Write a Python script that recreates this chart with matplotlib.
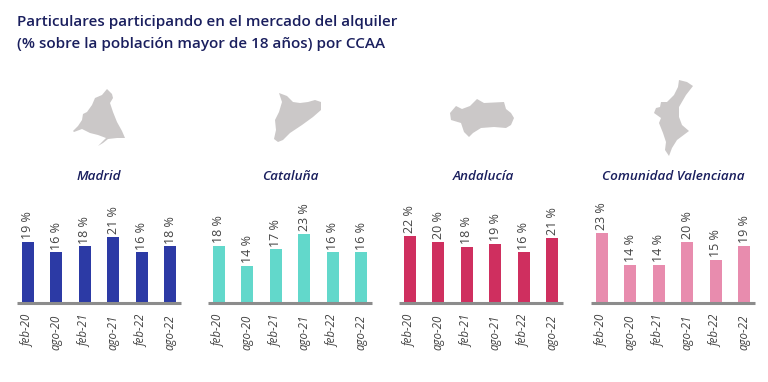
import matplotlib
matplotlib.use("Agg")
import matplotlib.pyplot as plt
from matplotlib.patches import Polygon

plt.rcParams['font.family'] = ['Open Sans', 'DejaVu Sans']

W = 768
H = 382

periods = ["feb-20", "ago-20", "feb-21", "ago-21", "feb-22", "ago-22"]
regions = ["Madrid", "Cataluña", "Andalucía", "Comunidad Valenciana"]

# bar heights as they are drawn in the picture (they do not always follow the printed label)
madrid = [19.4, 16.1, 18.0, 21.0, 16.1, 18.0]
cataluna = [18.1, 11.8, 17.0, 21.9, 16.1, 16.1]
andalucia = [21.2, 19.5, 17.7, 18.8, 16.1, 20.7]
valencia = [22.3, 12.2, 12.2, 19.5, 13.7, 18.1]

# printed labels
madrid_labels = [19, 16, 18, 21, 16, 18]
cataluna_labels = [18, 14, 17, 23, 16, 16]
andalucia_labels = [22, 20, 18, 19, 16, 21]
valencia_labels = [23, 14, 14, 20, 15, 19]

values = [madrid, cataluna, andalucia, valencia]
labels = [madrid_labels, cataluna_labels, andalucia_labels, valencia_labels]
colors = ["#2c3aa5", "#62d8cb", "#cf2f5f", "#e88cae"]
lefts = [17, 208, 399, 591]
title_x = [99, 290, 483, 673]

navy = "#1a1f5e"
grey_text = "#444444"

# map outlines, traced in pixels of the picture
madrid_map = [(107, 89), (112, 94), (113, 98), (110, 103), (113, 112), (117, 122), (122, 131), (125, 138),
              (117, 138), (108, 139), (103, 143), (98, 146), (102, 142), (106, 138), (98, 135), (90, 133),
              (82, 129), (74, 132), (73, 131), (78, 126), (82, 120), (83, 114), (87, 112), (92, 105),
              (95, 98), (102, 95)]
cataluna_map = [(279, 93), (287, 96), (293, 102), (300, 103), (308, 102), (315, 100), (321, 102), (321, 110),
                (313, 117), (302, 125), (290, 133), (283, 140), (278, 142), (274, 139), (276, 130),
                (275, 120), (279, 112), (282, 102)]
andalucia_map = [(456, 106), (462, 109), (470, 106), (477, 99), (484, 103), (504, 102), (506, 109), (511, 113),
                 (514, 118), (511, 125), (506, 128), (494, 127), (481, 128), (473, 133), (469, 137),
                 (464, 132), (461, 123), (451, 120), (450, 113)]
valencia_map = [(679, 80), (687, 82), (693, 86), (686, 95), (679, 107), (679, 117), (682, 125), (689, 131),
                (677, 140), (672, 148), (669, 156), (665, 150), (666, 142), (663, 133), (659, 123),
                (661, 118), (654, 113), (656, 108), (660, 107), (661, 102), (667, 102), (674, 95), (678, 87)]
maps = [madrid_map, cataluna_map, andalucia_map, valencia_map]

fig = plt.figure(figsize=(W / 100, H / 100), dpi=100, facecolor="white")

fig.text(17 / W, 1 - 22 / H, "Particulares participando en el mercado del alquiler",
         color=navy, fontsize=11, va="center", ha="left", fontweight="semibold")
fig.text(17 / W, 1 - 44 / H, "(% sobre la población mayor de 18 años) por CCAA",
         color=navy, fontsize=11, va="center", ha="left", fontweight="semibold")

base_y = 303
panel_w = 164
panel_h = 100
px_per_unit = 3.15

for i in range(4):
    ax = fig.add_axes([lefts[i] / W, 1 - base_y / H, panel_w / W, panel_h / H])
    x = list(range(6))
    ax.bar(x, values[i], width=0.42, color=colors[i])
    ax.set_xlim(-0.37, 5.37)
    ax.set_ylim(0, panel_h / px_per_unit)
    ax.set_xticks(x)
    ax.set_xticklabels(periods, rotation=90, style="italic", fontsize=8.3, color=grey_text)
    ax.tick_params(axis="x", length=0, pad=8.5)
    ax.set_yticks([])
    for s in ["top", "left", "right"]:
        ax.spines[s].set_visible(False)
    ax.spines["bottom"].set_color("#8c8c8c")
    ax.spines["bottom"].set_linewidth(2.2)
    ax.spines["bottom"].set_capstyle("butt")
    ax.patch.set_alpha(0)
    for j in x:
        ax.annotate(str(labels[i][j]) + " %", (j, values[i][j]), xytext=(0, 2), textcoords="offset points",
                    rotation=90, ha="center", va="bottom", fontsize=9, color=grey_text, annotation_clip=False)

    fig.text(title_x[i] / W, 1 - 177 / H, regions[i], color=navy, fontsize=9.7, fontweight="semibold",
             style="italic", ha="center", va="center")

    pts = [(px / W, 1 - py / H) for px, py in maps[i]]
    fig.add_artist(Polygon(pts, closed=True, transform=fig.transFigure, facecolor="#cbc8c8", edgecolor="none"))

fig.savefig("out.png", dpi=100)
